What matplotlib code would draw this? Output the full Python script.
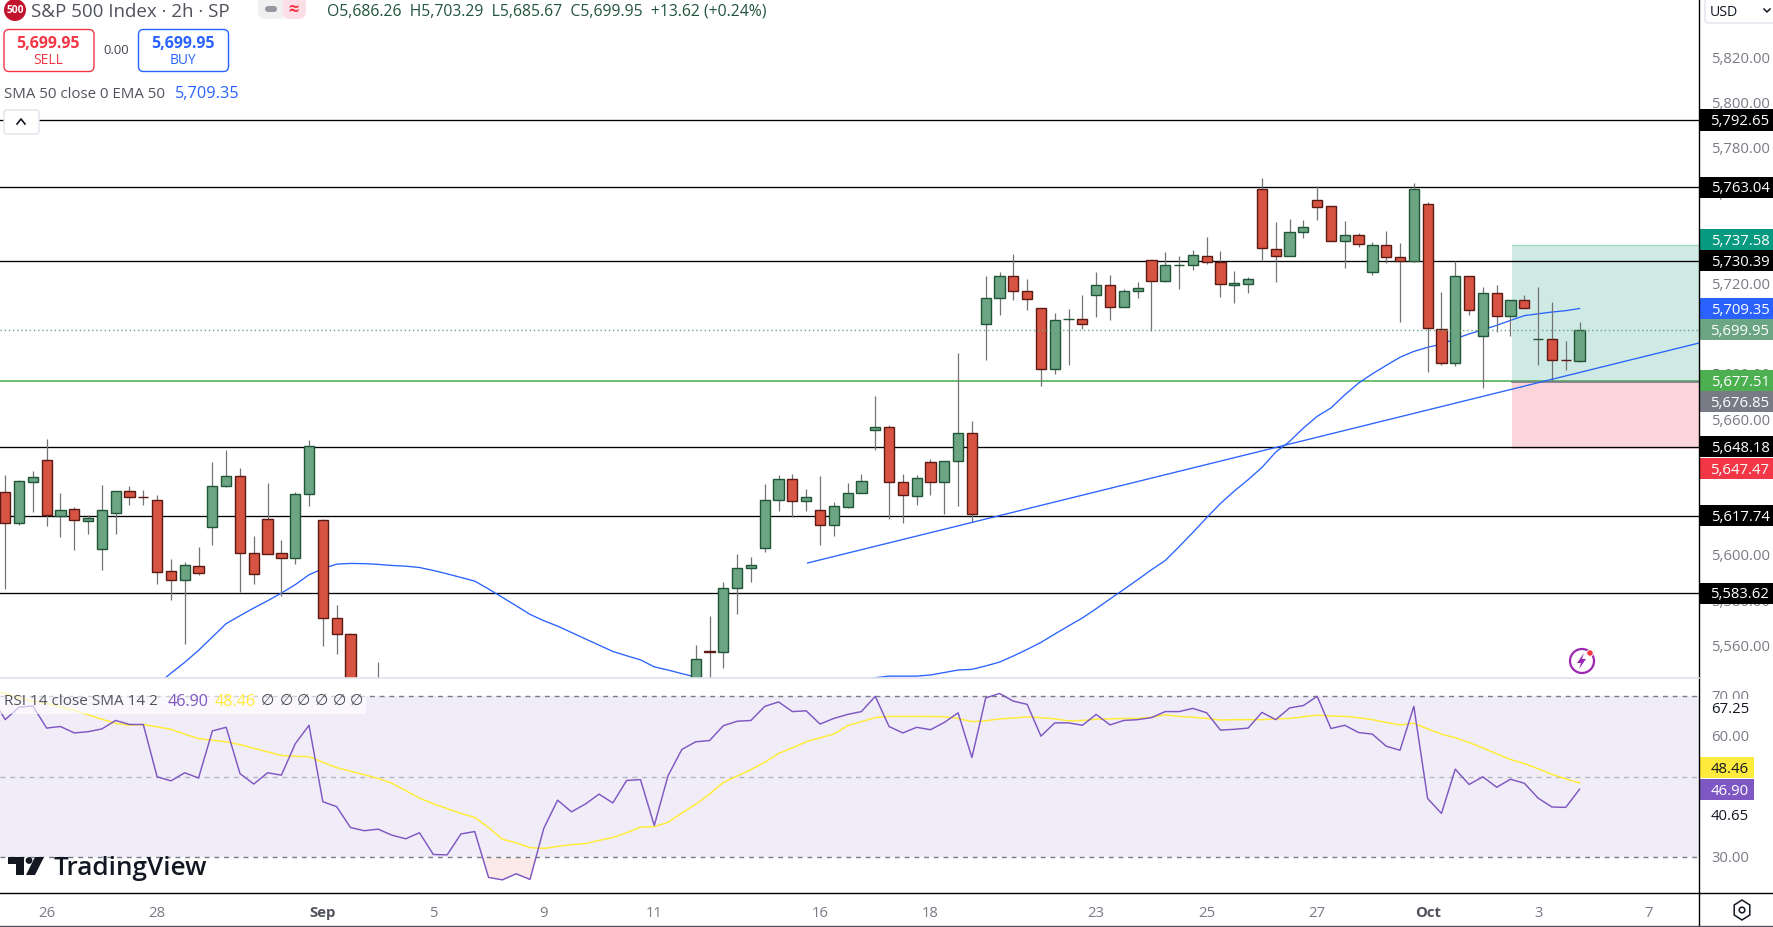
import matplotlib
matplotlib.use('Agg')
import matplotlib.pyplot as plt
import numpy as np
from matplotlib.patches import Rectangle, FancyBboxPatch, Circle, Polygon

plt.rcParams['font.family'] = ['Open Sans', 'DejaVu Sans']
nan = float('nan')

# ohlc, nan = hidden behind the rsi pane
opens = [5628.2,5614.4,5632.9,5642.4,5617.8,5620.7,5615.3,5602.9,5618.8,5628.7,5626.2,5624.7,5593.3,5589.6,5595.5,5612.6,5630.7,5635.3,5601.3,5616.3,5601.3,5598.9,5627.2,5615.9,5572.6,5565.5,
         nan,5535,nan,nan,nan,5530,nan,nan,nan,nan,nan,nan,nan,nan,nan,nan,nan,nan,nan,nan,nan,nan,nan,nan,
         5535,5558.1,5557.4,5585.7,5594.5,5603.3,5624.6,5634.0,5624.1,5620.3,5613.5,5621.8,5627.7,5655.5,5657.0,5632.7,5626.3,5641.5,5632.5,5641.8,5654.3,
         5702.3,5713.8,5723.7,5717.0,5709.5,5682.4,5704.5,5704.7,5715.1,5719.7,5709.8,5716.9,5730.7,5721.3,5728.4,5728.4,5732.5,5729.9,5719.6,5720.4,5762.3,5735.6,5732.4,5743.0,5757.3,5754.6,5739.0,5741.8,5725.3,5737.4,5732.1,5730.2,5755.5,5700.3,5685.1,5723.7,5697.0,5716.2,5705.9,5713.1,5695.7,5695.8,5686.7,5686.26]
highs = [5635.9,5633.7,5637.7,5651.8,5627.9,5621.6,5618.2,5631.5,5628.8,5631.0,5629.0,5627.1,5598.8,5597.4,5604.1,5641.6,5646.9,5639.0,5608.9,5632.4,5607.2,5628.4,5651.4,5616.5,5578.4,5566.1,
         nan,5553.3,nan,nan,nan,5546.6,nan,nan,nan,nan,nan,nan,nan,nan,nan,nan,nan,nan,nan,nan,nan,nan,nan,nan,
         5560.8,5573.6,5588.5,5601.0,5599.7,5631.9,5635.9,5636.3,5629.7,5635.5,5624.0,5632.4,5636.4,5670.8,5657.9,5636.4,5635.9,5642.8,5642.0,5689.8,5659.8,
         5723.8,5725.6,5733.5,5722.5,5709.5,5707.5,5709.2,5715.1,5725.6,5724.0,5718.1,5721.2,5730.7,5734.4,5732.4,5735.3,5741.1,5734.9,5726.0,5723.1,5767.1,5747.7,5749.0,5748.6,5763.6,5754.6,5748.1,5742.8,5738.8,5743.7,5738.4,5764.9,5756.4,5716.8,5730.3,5723.7,5719.0,5719.8,5713.2,5715.4,5719.0,5712.3,5695.1,5703.29]
lows = [5585.5,5613.5,5619.4,5613.4,5608.5,5602.8,5609.8,5593.9,5609.8,5622.6,5622.6,5587.7,5580.7,5561.2,5591.7,5605.0,5630.3,5584.2,5587.7,5600.7,5582.1,5596.6,5622.2,5560.3,5556.8,5530,
        nan,5525,nan,nan,nan,5520,nan,nan,nan,nan,nan,nan,nan,nan,nan,nan,nan,nan,nan,nan,nan,nan,nan,nan,
        5530,5535,5550.6,5574.5,5588.6,5601.9,5620.0,5617.3,5620.0,5605.0,5608.9,5621.0,5627.7,5647.0,5616.3,5614.4,5622.7,5627.1,5618.7,5622.2,5615.2,
        5686.7,5706.6,5712.9,5708.8,5674.9,5680.5,5684.5,5700.4,5705.7,5704.4,5709.8,5714.1,5699.2,5720.9,5718.1,5726.5,5729.1,5714.5,5711.9,5716.3,5730.6,5721.2,5732.4,5740.6,5748.6,5739.0,5727.4,5736.6,5724.3,5729.3,5703.5,5729.7,5681.4,5684.5,5684.1,5706.6,5674.3,5698.8,5697.3,5709.4,5684.5,5677.1,5682.3,5685.67]
closes = [5614.4,5633.1,5634.9,5617.9,5620.3,5615.7,5616.7,5620.3,5628.7,5625.9,5625.9,5592.7,5589.6,5596.0,5592.3,5630.9,5635.3,5601.1,5591.9,5600.7,5598.9,5627.4,5648.6,5572.4,5565.3,5535,
          nan,5530,nan,nan,nan,5525,nan,nan,nan,nan,nan,nan,nan,nan,nan,nan,nan,nan,nan,nan,nan,nan,nan,nan,
          5554.4,5557.5,5585.8,5594.7,5596.0,5624.7,5634.0,5624.1,5626.0,5613.5,5622.0,5627.8,5633.1,5657.0,5632.5,5626.8,5634.4,5632.5,5641.9,5654.3,5618.4,
          5714.0,5723.7,5716.9,5713.4,5682.4,5704.2,5704.8,5702.3,5719.7,5709.8,5717.0,5718.4,5721.3,5728.5,5728.7,5733.0,5729.9,5720.0,5720.6,5722.4,5735.9,5732.4,5743.1,5745.3,5754.0,5739.0,5741.8,5737.7,5737.4,5731.9,5730.2,5762.1,5700.6,5685.1,5723.7,5708.5,5716.2,5705.9,5713.1,5709.4,5696.0,5686.4,5686.4,5699.95]

# ema 50, candle by candle, starts at candle 11
ema50 = [5543.1,5548.2,5553.0,5558.3,5564.2,5570.1,5573.6,5577.0,5580.2,5583.6,5587.3,5591.7,5594.4,5596.4,5596.7,5596.6,5596.3,5595.8,5595.5,5594.9,5593.6,5592.1,5590.5,5588.9,5585.4,5581.7,5578.0,5574.2,5571.4,5569.0,5566.2,5563.4,5560.6,5557.8,5555.9,5554.1,5551.0,5549.6,5548.0,5546.5,5544,
         nan,nan,nan,nan,nan,nan,nan,nan,nan,nan,
         5545.3,5546.2,5546.9,5546.9,5546.9,5547.4,5548.5,5549.6,5549.9,5551.4,5553.1,5555.8,5558.7,5561.8,5565.5,5569.1,5572.6,5576.7,5581.0,5585.2,5589.5,5593.9,5598.0,5604.1,5610.4,5616.9,5623.2,5628.7,5633.7,5639.1,5645.9,5650.6,5656.5,5661.7,5665.4,5671.2,5676.4,5680.5,5684.2,5687.8,5690.4,5692.2,5693.6,5696.0,5698.1,5700.0,5701.9,5704.1,5706.2,5707.0,5707.8,5708.4,5709.35]

# rsi and its average, first point is the candle just off the left edge
rsi = [70.0,64.2,67.3,67.6,62.1,62.5,60.9,61.2,61.9,64.0,63.0,63.0,50.0,49.0,51.0,49.7,61.4,62.3,50.8,48.2,51.0,50.4,58.2,62.8,43.8,42.6,37.4,36.6,37.0,35.5,34.6,36.1,30.7,30.6,35.8,36.4,25.0,24.4,25.9,24.5,37.2,44.2,41.3,43.2,45.7,43.5,49.1,49.3,37.9,50.3,56.8,58.7,59.0,62.7,63.8,64.0,67.5,68.6,66.2,66.4,63.1,64.5,65.5,
       66.2,70.0,62.5,60.9,62.3,61.7,63.5,65.9,54.8,69.6,70.7,68.8,68.0,60.1,63.4,63.4,62.8,65.5,62.9,64.0,64.2,64.7,66.2,66.2,67.0,65.9,61.6,61.8,62.1,66.0,64.2,67.1,67.7,70.0,62.0,62.8,61.0,60.6,57.6,56.6,67.5,44.6,40.9,51.9,48.1,50.0,47.4,49.4,48.4,44.7,42.5,42.4,46.9]
rsi_ma = [71.4,70.7,69.6,68.8,68.2,67.4,66.5,65.4,64.3,63.3,62.8,63.0,62.4,61.8,60.6,59.5,59.1,58.7,58.0,57.1,56.2,55.3,55.1,55.0,53.6,52.3,51.4,50.5,49.6,48.4,46.6,44.7,43.3,42.1,40.9,39.9,37.4,34.5,33.6,32.4,32.2,32.7,33.1,33.4,34.2,34.9,36.1,37.5,37.6,38.7,41.0,43.2,45.7,48.6,50.2,51.8,53.6,55.8,57.2,58.7,59.7,60.6,62.7,
          63.7,64.7,65.0,65.0,65.0,65.0,64.9,64.5,63.7,63.9,64.4,64.6,64.9,64.7,64.4,63.9,64.0,64.3,64.4,64.5,64.5,64.8,65.4,65.0,64.8,64.5,64.1,64.2,64.2,64.2,64.4,64.5,64.9,65.3,65.1,65.0,64.7,64.2,63.5,62.9,63.3,61.9,60.6,59.7,58.5,57.2,55.7,54.3,53.3,52.0,50.6,49.5,48.46]

levels = [5792.65, 5763.04, 5730.39, 5648.18, 5617.74, 5583.62]
last_price = 5699.95
pos_top, pos_tp, pos_entry, pos_stop = 5737.58, 5677.51, 5676.85, 5647.47
trend_x = [58.1, 122.65]
trend_y = [5596.9, 5694.1]

date_pos = [3, 11, 23, 31, 39, 47, 59, 67, 79, 87, 95, 103, 111, 119]
date_labels = ['26', '28', 'Sep', '5', '9', '11', '16', '18', '23', '25', '27', 'Oct', '3', '7']

# text, where the tag sits, background
price_tags = [('5,792.65', 5792.65, 'black'), ('5,763.04', 5763.04, 'black'),
              ('5,737.58', 5739.8, '#089981'), ('5,730.39', 5730.39, 'black'),
              ('5,709.35', 5709.25, '#2962ff'), ('5,699.95', 5699.95, '#6ba583'),
              ('5,677.51', 5677.51, '#4caf50'), ('5,676.85', 5668.2, '#787b86'),
              ('5,648.18', 5648.18, 'black'), ('5,647.47', 5638.7, '#f23645'),
              ('5,617.74', 5617.74, 'black'), ('5,583.62', 5583.62, 'black')]

W, H = 1773, 928
AXIS_X, SEP_Y, RSI_BOT = 1699, 679, 893.5
Y_BASE = 121.0  # pixel row of 5792.65
GREY = '#787b86'
AXFONT = 10.7

fig = plt.figure(figsize=(W/100, H/100), dpi=100)
ax = fig.add_axes([0, 1-SEP_Y/H, AXIS_X/W, SEP_Y/H])
ax2 = fig.add_axes([0, 1-RSI_BOT/H, AXIS_X/W, (RSI_BOT-SEP_Y-1)/H])

x = np.arange(len(opens))
o, h, l, c = map(np.array, (opens, highs, lows, closes))
up = c >= o

for v in levels:
    ax.axhline(v, color='black', lw=0.95, zorder=1.2)
ax.axhline(pos_tp, color='#4caf50', lw=1.15, zorder=1.2)
ax.add_patch(Rectangle((109.1, pos_tp), 122.65-109.1, pos_top-pos_tp, fc='#cfeae4', ec='none', zorder=1))
ax.add_patch(Rectangle((109.1, pos_stop), 122.65-109.1, pos_entry-pos_stop, fc='#fbd5d9', ec='none', zorder=1))
ax.plot([109.1, 122.65], [pos_top, pos_top], color='#a5d6ca', lw=1, zorder=1.1)
ax.plot([109.1, 122.65], [pos_entry, pos_entry], color=GREY, lw=1.2, zorder=1.3)

ax.plot(np.arange(11, 115), ema50, color='#2962ff', lw=0.95, zorder=1.5)
ax.vlines(x, l, h, color='#737375', lw=0.9, zorder=2)
ax.bar(x[up], (c-o)[up], bottom=o[up], width=0.74, color='#6ba583', edgecolor='#225437', lw=1.0, zorder=2.1)
ax.bar(x[~up], (c-o)[~up], bottom=o[~up], width=0.74, color='#d75442', edgecolor='#5b1a13', lw=1.0, zorder=2.1)
ax.plot(trend_x, trend_y, color='#2962ff', lw=0.95, zorder=3)
ax.axhline(last_price, color='#6ba583', lw=1, ls=(0, (1, 2)), zorder=3)

ax.set_xlim(-0.377, 122.65)
ax.set_ylim(5792.65-(SEP_Y-Y_BASE)/2.263, 5792.65+Y_BASE/2.263)
ax.yaxis.tick_right()
ax.set_xticks([])
ax.set_yticks(np.arange(5560, 5821, 20))
ax.set_yticklabels([f'{v:,.2f}' for v in np.arange(5560, 5821, 20)], fontsize=AXFONT, color=GREY, va='center')
ax.tick_params(axis='y', length=0, pad=8.6)
for s in ax.spines.values():
    s.set_visible(False)

tag_h = 21/2.263
tag_w = 74/AXIS_X
for txt, pos, col in price_tags:
    ax.add_patch(Rectangle((1, pos-tag_h/2), tag_w, tag_h, transform=ax.get_yaxis_transform(),
                           fc=col, ec='none', clip_on=False, zorder=10))
    ax.text(1+41/AXIS_X, pos-0.3, txt, transform=ax.get_yaxis_transform(), color='white',
            fontsize=AXFONT, ha='center', va='center', zorder=11, clip_on=False)

# rsi pane
xr = np.arange(-1, 115)
r = np.array(rsi)
ax2.axhspan(30, 70, color='#7e57c2', alpha=0.1, lw=0, zorder=1)
ax2.fill_between(xr, r, 30, where=r < 30, interpolate=True, color='#fbeae8', lw=0, zorder=1.1)
for v, col in zip((70, 50, 30), ('#787b86', '#b2b5be', '#787b86')):
    ax2.axhline(v, color=col, lw=1, ls=(0, (3.5, 3.5)), zorder=1.5)
ax2.plot(xr, rsi_ma, color='#ffeb3b', lw=1.1, zorder=2)
ax2.plot(xr, rsi, color='#7e57c2', lw=1.05, zorder=3)
ax2.set_xlim(-0.377, 122.65)
ax2.set_ylim(70-(RSI_BOT-697.3)/4.025, 70-(SEP_Y+1-697.3)/4.025)
ax2.set_xticks(date_pos)
ax2.set_xticklabels(date_labels, fontsize=AXFONT, color=GREY)
for t, lab in zip(ax2.get_xticklabels(), date_labels):
    if lab in ('Sep', 'Oct'):
        t.set_fontweight('bold')
        t.set_color('#50535e')
ax2.tick_params(axis='x', length=0, pad=9)
ax2.yaxis.tick_right()
ax2.set_yticks([30, 60, 70])
ax2.set_yticklabels(['30.00', '60.00', '70.00'], fontsize=AXFONT, color=GREY, va='center')
ax2.tick_params(axis='y', length=0, pad=8.6)
for s in ax2.spines.values():
    s.set_visible(False)

rw = 55/AXIS_X
for txt, pos, col, tc in [('48.46', 52.4, '#ffeb3b', '#131722'), ('46.90', 46.9, '#7e57c2', 'white')]:
    ax2.add_patch(Rectangle((1, pos-2.6), rw, 5.2, transform=ax2.get_yaxis_transform(), fc=col, ec='none',
                            clip_on=False, zorder=10))
    ax2.text(1+31/AXIS_X, pos-0.3, txt, transform=ax2.get_yaxis_transform(), color=tc, fontsize=AXFONT,
             ha='center', va='center', zorder=11, clip_on=False)
for txt, pos in [('67.25', 67.0), ('40.65', 40.4)]:
    ax2.text(1+31/AXIS_X, pos, txt, transform=ax2.get_yaxis_transform(), color='#131722', fontsize=AXFONT,
             ha='center', va='center', zorder=11, clip_on=False,
             bbox=dict(fc='white', ec='none', pad=1.5))

# everything around the chart, in pixels
ov = fig.add_axes([0, 0, 1, 1], zorder=20)
ov.set_xlim(0, W)
ov.set_ylim(H, 0)
ov.axis('off')
ov.patch.set_alpha(0)

ov.plot([AXIS_X, AXIS_X], [0, H], color='black', lw=1.0)
ov.plot([0, W], [RSI_BOT, RSI_BOT], color='black', lw=1.0)
ov.plot([0, W], [H-1, H-1], color='#50535e', lw=1.0)
ov.plot([0, AXIS_X], [SEP_Y, SEP_Y], color='#e0e3eb', lw=1.2)

# header
ov.add_patch(Circle((15, 11), 11, fc='#c2132d', ec='none'))
ov.text(15, 10.5, '500', color='white', fontsize=7.4, fontweight='bold', ha='center', va='center')
ov.text(31, 12, 'S&P 500 Index · 2h · SP', color='#50535e', fontsize=13.5, va='center')
ov.add_patch(FancyBboxPatch((258, -6), 24, 26, boxstyle='round,pad=0,rounding_size=8', fc='#f0f0f0', ec='none'))
ov.add_patch(FancyBboxPatch((282, -6), 24, 26, boxstyle='round,pad=0,rounding_size=8', fc='#fcdfe6', ec='none'))
ov.add_patch(Rectangle((279, -6), 4, 26, fc='#f0f0f0', ec='none'))
ov.add_patch(FancyBboxPatch((265, 7), 12, 6, boxstyle='round,pad=0,rounding_size=3', fc='#9598a1', ec='none'))
ov.text(293, 10, '≈', color='#f23645', fontsize=13, fontweight='bold', ha='center', va='center')
ov.text(327, 12, 'O5,686.26  H5,703.29  L5,685.67  C5,699.95  +13.62 (+0.24%)', color='#22543d',
        fontsize=11.3, va='center')

ov.add_patch(FancyBboxPatch((4, 30.5), 90, 42, boxstyle='round,pad=0,rounding_size=5', fc='white', ec='#f23645', lw=1))
ov.add_patch(FancyBboxPatch((138.5, 30.5), 90, 42, boxstyle='round,pad=0,rounding_size=5', fc='white', ec='#2962ff', lw=1))
ov.text(48, 44, '5,699.95', color='#f23645', fontsize=11.5, fontweight='bold', ha='center', va='center')
ov.text(48, 61, 'SELL', color='#f23645', fontsize=10, ha='center', va='center')
ov.text(183, 44, '5,699.95', color='#2962ff', fontsize=11.5, fontweight='bold', ha='center', va='center')
ov.text(183, 61, 'BUY', color='#2962ff', fontsize=10, ha='center', va='center')
ov.text(116, 50.5, '0.00', color='#434651', fontsize=9.4, ha='center', va='center')
ov.text(4, 94, 'SMA 50 close 0 EMA 50', color='#50535e', fontsize=10.85, va='center')
ov.text(175, 94, '5,709.35', color='#2962ff', fontsize=11.7, va='center')
ov.add_patch(FancyBboxPatch((4, 111), 35, 24, boxstyle='round,pad=0,rounding_size=3', fc='white', ec='#e0e3eb', lw=1))
ov.plot([17, 21, 25], [125, 120, 125], color='#131722', lw=1.2)

# currency box
ov.add_patch(FancyBboxPatch((1705, -8), 80, 32, boxstyle='round,pad=0,rounding_size=4', fc='white', ec='#e0e3eb', lw=1))
ov.text(1710, 12, 'USD', color='#131722', fontsize=10.2, va='center')
ov.plot([1764, 1767, 1770], [10, 13, 10], color='#131722', lw=1.1)

# rsi legend
ov.add_patch(Rectangle((0, 691), 366, 24, fc='white', alpha=0.65, ec='none'))
ov.text(4, 702, 'RSI 14 close SMA 14 2', color='#50535e', fontsize=10.95, va='center')
ov.text(168, 702, '46.90', color='#7e57c2', fontsize=11.6, va='center')
ov.text(215, 702, '48.46', color='#ffeb3b', fontsize=11.6, va='center')
for zx in (267, 286, 303, 321, 339, 356):
    ov.text(zx, 702, '∅', color='#434651', fontsize=11, ha='center', va='center')

# tradingview mark
ov.add_patch(Polygon([(8, 858), (24, 858), (24, 876), (16, 876), (16, 865), (8, 865)], fc='#131722', ec='none'))
ov.add_patch(Circle((29, 861.5), 3.4, fc='#131722', ec='none'))
ov.add_patch(Polygon([(35, 858), (44, 858), (35, 876), (26, 876)], fc='#131722', ec='none'))
ov.text(54, 869, 'TradingView', color='#131722', fontsize=18.8, fontweight='semibold', va='center')

# lightning badge
ov.add_patch(Circle((1582, 662), 12, fc='none', ec='#9c27b0', lw=1.6))
ov.add_patch(Polygon([(1584, 654), (1577, 664), (1581, 664), (1579, 670), (1586, 660), (1582, 660)], fc='#9c27b0', ec='none'))
ov.add_patch(Circle((1590, 654), 3.2, fc='#f23645', ec='white', lw=0.6))

# settings icon
ang = np.deg2rad(np.arange(30, 390, 60))
ov.add_patch(Polygon(np.c_[1742+9*np.cos(ang), 911+10*np.sin(ang)], fc='none', ec='#131722', lw=1.1))
ov.add_patch(Circle((1742, 911), 2.8, fc='none', ec='#131722', lw=1.1))

fig.savefig('out.png', dpi=100)
